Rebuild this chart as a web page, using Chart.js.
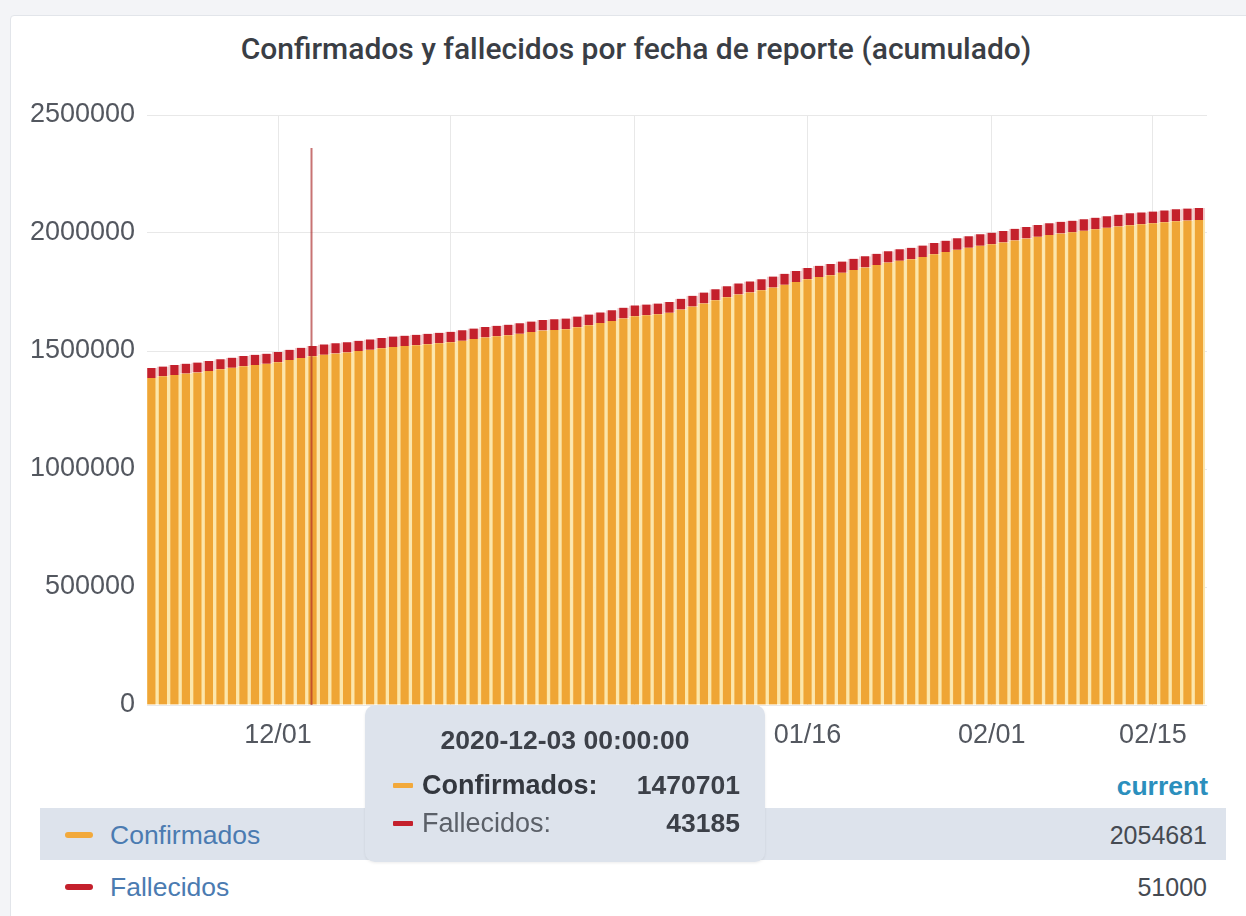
<!DOCTYPE html>
<html>
<head>
<meta charset="utf-8">
<script src="https://cdn.jsdelivr.net/npm/chart.js@4.4.1/dist/chart.umd.min.js"></script>
<style>
  html, body { margin: 0; padding: 0; width: 1246px; height: 916px; overflow: hidden; background: #f3f4f7; font-family: "Liberation Sans", Arial, sans-serif; }
  .panel { position: absolute; left: 10px; top: 15px; width: 1240px; height: 910px; background: #fff; border: 1px solid #e2e5ea; border-radius: 4px; box-sizing: border-box; }
  .title { position: absolute; left: 10px; width: 1252px; top: 31px; line-height: 34px; text-align: center; font: 500 30px Roboto, sans-serif; color: #3a3e45; }
  #wrap { position: absolute; left: 10px; top: 80px; width: 1226px; height: 690px; }
  .abs { position: absolute; white-space: nowrap; line-height: 30px; }
  .hl { position: absolute; left: 40px; top: 808px; width: 1186px; height: 52px; background: #dde3ec; }
  .mark { position: absolute; height: 6px; border-radius: 3px; }
  .tip { position: absolute; left: 365px; top: 705px; width: 400px; height: 157px; background: #dde3ec; border-radius: 10px; box-shadow: 0 1px 3px rgba(0,0,0,0.08); }
</style>
</head>
<body>
<div class="panel"></div>
<div class="title">Confirmados y fallecidos por fecha de reporte (acumulado)</div>
<div id="wrap"><canvas id="chart" width="1226" height="690"></canvas></div>

<div class="abs" id="curHead" style="right:38px; top:771px; font-weight:bold; font-size:26.5px; color:#2b8fbd;">current</div>
<div class="hl"></div>
<div class="mark" style="left:65px; top:832px; width:28px; background:#f2a93b;"></div>
<div class="abs" style="left:110px; top:820px; font-size:26.5px; color:#4b7bb1;">Confirmados</div>
<div class="abs" id="curConf" style="right:39px; top:820px; font-size:25px; color:#454a52;"></div>
<div class="mark" style="left:65px; top:884px; width:28px; background:#c4202c;"></div>
<div class="abs" style="left:110px; top:872px; font-size:26.5px; color:#4b7bb1;">Fallecidos</div>
<div class="abs" id="curDead" style="right:39px; top:872px; font-size:25px; color:#454a52;"></div>

<div class="tip">
  <div class="abs" id="tipTitle" style="left:0; width:400px; top:20px; text-align:center; font-weight:bold; font-size:26.5px; color:#3c4048;"></div>
  <div class="mark" style="left:28px; top:78px; width:20px; height:5px; border-radius:1px; background:#f2a93b;"></div>
  <div class="abs" style="left:57px; top:65px; font-weight:bold; font-size:27px; color:#33373e;">Confirmados:</div>
  <div class="abs" id="tipConf" style="right:25px; top:65px; font-weight:bold; font-size:26.5px; color:#3c4048;"></div>
  <div class="mark" style="left:28px; top:116px; width:20px; height:5px; border-radius:1px; background:#c4202c;"></div>
  <div class="abs" style="left:57px; top:103px; font-size:27px; color:#5b6068;">Fallecidos:</div>
  <div class="abs" id="tipDead" style="right:25px; top:103px; font-weight:bold; font-size:26.5px; color:#3c4048;"></div>
</div>

<script>
// one bar per day, starting 2020-11-20
const startDate = '2020-11-20';

const confirmados = [
  1386000, 1392500, 1398800, 1404200, 1409000, 1415600, 1422400, 1429200, 1435800, 1441100,
  1446000, 1452500, 1461800, 1470701, 1478000, 1484500, 1489300, 1493900, 1499600, 1505400,
  1511300, 1517000, 1520800, 1524500, 1529000, 1532600, 1537000, 1543500, 1550600, 1557400,
  1562000, 1566900, 1573100, 1580200, 1586800, 1589200, 1592300, 1601000, 1609500, 1618200,
  1627400, 1638000, 1647500, 1651000, 1655300, 1662000, 1675400, 1688200, 1701500, 1715000,
  1727800, 1739900, 1748300, 1757000, 1768600, 1780200, 1792400, 1804300, 1813800, 1821400,
  1831900, 1843000, 1853800, 1864500, 1874600, 1882900, 1889200, 1898800, 1909500, 1919300,
  1928900, 1938000, 1946300, 1952600, 1960200, 1968700, 1976600, 1984300, 1991700, 1997900,
  2002800, 2009100, 2015400, 2021800, 2027900, 2033300, 2037200, 2040800, 2045500, 2050100,
  2052600, 2054681
];

const fallecidos = [
  41900, 42010, 42100, 42190, 42290, 42380, 42470, 42560, 42650, 42750,
  42860, 42960, 43080, 43185, 43290, 43390, 43480, 43580, 43670, 43760,
  43850, 43950, 44040, 44130, 44220, 44310, 44400, 44480, 44560, 44640,
  44700, 44770, 44860, 44950, 45030, 45100, 45160, 45230, 45310, 45400,
  45500, 45590, 45670, 45740, 45800, 45880, 45980, 46080, 46180, 46280,
  46380, 46480, 46580, 46680, 46780, 46880, 46980, 47080, 47180, 47280,
  47380, 47480, 47580, 47680, 47780, 47880, 47980, 48080, 48180, 48280,
  48380, 48480, 48580, 48680, 48780, 48880, 48980, 49080, 49180, 49280,
  49380, 49480, 49580, 49680, 49790, 49900, 50020, 50150, 50290, 50480,
  50720, 51000
];

// x tick labels and the day index where each sits
const tickLabels = ['12/01', '12/16', '01/01', '01/16', '02/01', '02/15'];
const tickDays = [11, 26, 42, 57, 73, 87];

const yTicks = [0, 500000, 1000000, 1500000, 2000000, 2500000];

// hovered bar and mouse position (in day units)
const hoverDay = 13;
const mouseX = 13.87;

function dayLabel(i) {
  const d = new Date(startDate + 'T00:00:00Z');
  d.setUTCDate(d.getUTCDate() + i);
  return d.toISOString().slice(0, 10) + ' 00:00:00';
}

const crosshair = {
  id: 'crosshair',
  afterDatasetsDraw(chart) {
    const { ctx, chartArea, scales } = chart;
    const x = Math.round(scales.x.getPixelForValue(mouseX)) + 0.5;
    ctx.save();
    ctx.strokeStyle = 'rgba(170, 40, 40, 0.65)';
    ctx.lineWidth = 2;
    ctx.beginPath();
    ctx.moveTo(x, scales.y.getPixelForValue(2360000));
    ctx.lineTo(x, chartArea.bottom);
    ctx.stroke();
    ctx.restore();
  }
};

const tickFont = { family: 'Liberation Sans', size: 27 };

new Chart(document.getElementById('chart'), {
  type: 'bar',
  data: {
    datasets: [
      {
        label: 'Confirmados',
        data: confirmados.map((v, i) => ({ x: i, y: v })),
        backgroundColor: '#efa535',
        borderColor: '#fce6ab',
        borderWidth: { left: 2, right: 2, top: 0, bottom: 0 },
        barPercentage: 1,
        categoryPercentage: 1
      },
      {
        label: 'Fallecidos',
        data: fallecidos.map((v, i) => ({ x: i, y: v })),
        backgroundColor: '#c4202c',
        borderColor: '#f1cccd',
        borderWidth: { left: 2, right: 2, top: 0, bottom: 0 },
        barPercentage: 1,
        categoryPercentage: 1
      }
    ]
  },
  options: {
    responsive: false,
    animation: false,
    layout: { padding: { top: 35, right: 29, left: 0, bottom: 0 } },
    plugins: {
      legend: { display: false },
      tooltip: { enabled: false }
    },
    scales: {
      x: {
        type: 'linear',
        stacked: true,
        offset: false,
        min: -0.38,
        max: 91.7,
        afterBuildTicks: (scale) => { scale.ticks = tickDays.map(v => ({ value: v })); },
        afterFit: (scale) => { scale.height = 65; },
        ticks: {
          color: '#53575f',
          font: tickFont,
          padding: 14,
          maxRotation: 0,
          autoSkip: false,
          callback: (v) => tickLabels[tickDays.indexOf(v)]
        },
        grid: { color: '#e8e8e8', drawTicks: false, offset: false },
        border: { display: false }
      },
      y: {
        stacked: true,
        min: 0,
        max: 2500000,
        afterBuildTicks: (scale) => { scale.ticks = yTicks.map(v => ({ value: v })); },
        afterFit: (scale) => { scale.width = 137; },
        ticks: {
          color: '#53575f',
          font: tickFont,
          padding: 12,
          callback: (v) => String(v)
        },
        grid: { color: '#e8e8e8', drawTicks: false },
        border: { display: false }
      }
    }
  },
  plugins: [crosshair]
});

document.getElementById('tipTitle').textContent = dayLabel(hoverDay);
document.getElementById('tipConf').textContent = confirmados[hoverDay];
document.getElementById('tipDead').textContent = fallecidos[hoverDay];
document.getElementById('curConf').textContent = confirmados[confirmados.length - 1];
document.getElementById('curDead').textContent = fallecidos[fallecidos.length - 1];
</script>
</body>
</html>
